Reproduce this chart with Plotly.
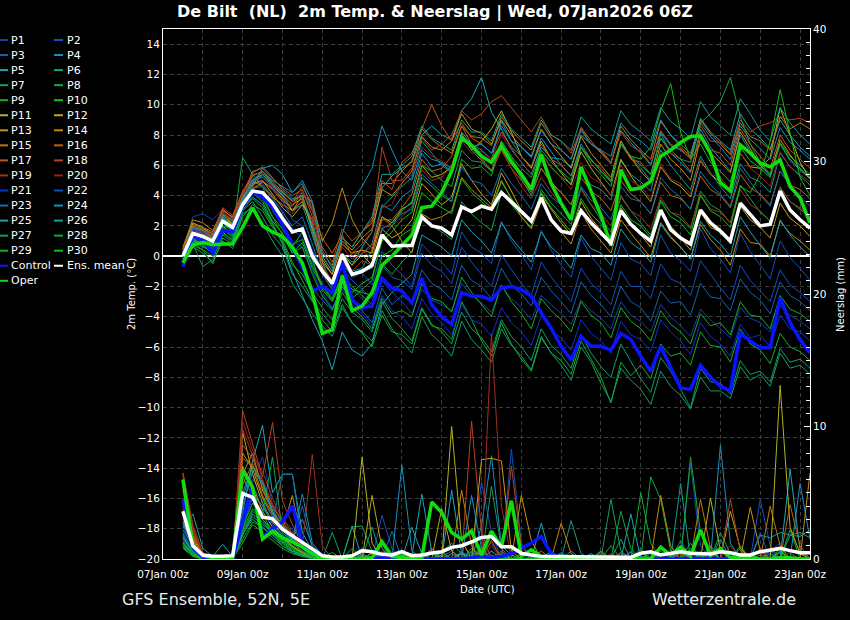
import pandas as pd
import plotly.graph_objects as go

# GFS ensemble, De Bilt, run 07Jan2026 06Z
# 6-hourly values from 07Jan 12z to 23Jan 06z (64 steps)
times = pd.date_range("2026-01-07 12:00", periods=64, freq="6h")

# ---------- 2m temperature (deg C) ----------
t_mean = [0.0, 1.5, 1.3, 1.0, 2.3, 1.9, 3.4, 4.3,
          4.2, 3.5, 2.5, 1.6, 1.8, 0.0, -1.0, -1.8,
          0.1, -1.2, -1.0, -0.6, 1.4, 0.65, 0.7, 0.7,
          2.6, 2.0, 1.85, 1.4, 3.25, 2.95, 3.3, 3.1,
          4.2, 3.6, 2.95, 2.3, 3.85, 2.4, 1.65, 1.5,
          3.0, 2.2, 1.5, 0.85, 3.0, 2.1, 1.5, 1.0,
          3.05, 1.75, 1.2, 0.8, 3.05, 2.2, 1.65, 1.0,
          3.5, 2.75, 2.0, 2.1, 4.3, 3.05, 2.4, 1.85]
t_control = [-0.7, 1.4, 1.0, 0.2, 1.7, 1.6, 3.3, 4.2,
             3.9, 3.2, 2.1, 0.6, -0.7, -2.3, -2.0, -2.4,
             -0.4, -2.9, -3.4, -3.3, -1.45, -2.1, -2.3, -3.1,
             -1.45, -3.2, -4.0, -4.5, -2.4, -2.65, -2.65, -2.9,
             -2.1, -2.0, -2.2, -2.65, -3.75, -4.75, -5.95, -6.85,
             -5.3, -5.95, -5.95, -6.2, -5.1, -5.5, -6.6, -7.6,
             -5.95, -7.3, -8.7, -8.8, -7.2, -8.0, -8.6, -8.9,
             -5.1, -5.6, -6.05, -6.05, -2.75, -4.4, -5.5, -6.4]
t_oper = [-0.45, 0.75, 0.9, 0.75, 0.8, 0.8, 1.9, 3.2,
          2.0, 1.6, 1.3, 0.6, -0.45, -2.4, -5.1, -4.85,
          -1.3, -3.6, -3.3, -2.4, -0.6, 0.0, 0.7, 1.4,
          3.2, 3.3, 4.2, 5.6, 7.8, 7.3, 6.6, 6.2,
          7.3, 6.2, 5.4, 4.4, 6.7, 4.8, 3.5, 2.4,
          5.9, 4.3, 2.7, 0.7, 5.7, 4.4, 4.5, 4.95,
          6.6, 7.0, 7.5, 7.9, 7.95, 6.8, 4.85, 4.3,
          7.35, 6.8, 6.15, 5.9, 6.35, 4.6, 3.85, 2.2]

t_p01 = [0.3, 2.6, 2.8, 2.4, 3.1, 2.5, 4.2, 5.2, 4.8, 3.9, 3.0, 1.8, 1.2, -0.4,
         -1.8, -2.6, -1.5, -2.2, -2.8, -3.4, -1.6, -2.4, -3.0, -3.8, -2.2, -2.9,
         -3.2, -3.6, -1.8, -2.6, -3.1, -3.7, -2.0, -2.8, -3.4, -4.2, -2.6, -3.2,
         -3.8, -4.5, -2.9, -3.6, -4.1, -4.8, -3.0, -3.9, -4.3, -5.0, -3.2, -4.0,
         -4.6, -5.3, -3.5, -4.2, -4.8, -5.4, -3.4, -4.1, -4.4, -5.0, -3.3, -3.9, -4.3, -4.8]
t_p02 = [0.1, 1.9, 1.6, 1.2, 2.6, 2.0, 3.8, 4.9, 5.3, 4.6, 3.9, 3.1, 3.6, 2.2,
         -0.8, -2.0, -0.4, -1.4, -1.1, -1.9, 0.3, -0.6, -1.2, -2.0, 0.8, 0.1,
         -0.4, -1.2, 1.6, 0.6, 0.2, -0.5, 2.3, 1.0, 0.1, -0.9, 1.7, 0.4,
         -0.6, -1.4, 1.2, 0.0, -0.8, -1.6, 0.9, -0.2, -0.5, -1.3, 1.4, 0.2,
         -0.3, -1.0, 1.8, 0.5, -0.2, -1.1, 1.5, 0.3, -0.6, -1.5, 1.0, -0.1, -0.8, -1.6]
t_p03 = [-0.2, 1.2, 1.0, 0.5, 1.8, 1.2, 3.0, 4.1, 4.0, 3.2, 2.0, 0.4, -0.8, -2.1,
         -2.9, -3.6, -2.0, -3.0, -3.6, -4.4, -2.1, -3.2, -2.6, -3.1, -0.9, -1.8,
         -2.2, -2.9, -0.6, -1.6, -2.0, -2.8, -0.8, -1.9, -2.5, -3.3, -1.4, -2.3,
         -3.0, -3.8, -1.7, -2.6, -3.2, -4.0, -2.0, -3.0, -3.4, -4.3, -2.3, -3.1,
         -3.0, -3.9, -1.8, -2.7, -2.8, -3.6, -1.5, -2.4, -2.9, -3.8, -1.7, -2.6, -3.0, -3.6]
t_p04 = [0.4, 2.0, 1.8, 1.5, 2.9, 2.4, 4.0, 5.5, 5.9, 5.2, 4.4, 3.8, 4.0, 1.6,
         -0.8, -1.8, 0.2, -0.4, 0.2, 0.8, 3.4, 3.0, 3.9, 4.4, 6.8, 5.9,
         6.1, 5.6, 8.2, 7.4, 7.0, 6.4, 8.9, 7.6, 6.6, 5.9, 7.8, 6.9,
         6.0, 5.3, 7.4, 6.4, 5.6, 4.9, 7.6, 6.5, 5.8, 5.0, 8.1, 6.8,
         6.2, 5.5, 8.4, 7.2, 6.4, 5.6, 8.0, 6.9, 6.0, 5.3, 7.4, 6.3, 5.7, 5.1]
t_p05 = [0.2, 1.7, 1.5, 1.1, 2.4, 2.2, 3.6, 4.6, 5.8, 6.0, 5.4, 4.2, 4.8, 3.1,
         -0.4, -1.9, 0.2, -0.6, 0.6, 1.6, 4.5, 5.3, 5.8, 6.2, 8.0, 8.6,
         8.0, 7.7, 9.6, 10.4, 11.8, 9.5, 8.4, 7.1, 6.2, 5.4, 7.2, 6.5,
         6.4, 5.9, 8.0, 7.4, 6.9, 6.2, 8.3, 7.5, 6.8, 6.0, 8.2, 7.3,
         7.0, 6.5, 9.1, 8.2, 7.6, 7.0, 9.4, 8.4, 7.8, 7.1, 9.0, 8.0, 7.2, 6.6]
t_p06 = [-0.3, 1.4, 1.2, 0.9, 2.0, 1.8, 3.4, 4.9, 5.6, 4.8, 4.1, 3.0, 3.4, 1.4,
         -0.6, -1.8, -0.4, -1.0, -0.8, 0.4, 3.2, 3.9, 4.6, 5.2, 7.6, 6.8,
         6.0, 5.5, 7.9, 7.0, 6.3, 5.6, 7.4, 6.2, 5.1, 4.0, 5.8, 4.9,
         4.2, 3.4, 5.6, 4.7, 4.4, 3.7, 6.3, 5.4, 4.9, 4.3, 7.0, 6.0,
         5.2, 4.4, 6.6, 5.5, 4.6, 3.8, 6.1, 5.2, 4.9, 4.2, 6.8, 5.9, 5.3, 4.7]
t_p07 = [-0.6, 0.8, -0.7, -0.2, 1.4, 0.9, 3.0, 3.6, 2.6, 1.4, 0.6, -1.2, -2.0, -3.0,
         -3.8, -4.6, -2.8, -3.7, -4.2, -5.0, -3.0, -4.1, -4.8, -5.6, -3.4, -4.5,
         -5.0, -5.8, -3.7, -4.8, -5.4, -6.3, -4.2, -5.3, -6.0, -6.9, -4.8, -5.9,
         -6.5, -7.4, -5.2, -6.4, -7.3, -8.0, -5.8, -7.0, -8.1, -9.0, -6.7, -7.6,
         -8.8, -10.0, -7.4, -8.3, -8.4, -9.1, -6.9, -7.8, -7.6, -8.3, -6.1, -7.0, -6.8, -7.4]
t_p08 = [0.0, 1.0, 0.6, 0.3, 1.9, 1.5, 6.5, 5.4, 4.6, 3.0, 2.0, 0.8, 1.1, -0.6,
         -1.9, -2.8, -1.2, -2.0, -2.6, -3.2, -0.5, -1.2, -0.4, 0.3, 2.4, 2.0,
         1.6, 1.1, 3.6, 2.8, 2.2, 1.7, 4.2, 3.4, 2.6, 1.9, 4.4, 3.5,
         2.8, 2.1, 4.5, 3.4, 2.4, 1.6, 3.9, 3.0, 2.2, 1.4, 3.7, 2.9,
         2.5, 1.8, 4.3, 3.4, 3.0, 2.2, 4.7, 3.8, 2.9, 2.3, 4.5, 3.6, 3.1, 2.5]
t_p09 = [-0.4, 0.9, 0.4, -0.5, 1.2, 0.8, 2.6, 3.4, 3.0, 1.9, 1.1, -0.4, -1.6, -2.9,
         -4.2, -5.0, -3.2, -4.4, -5.1, -6.0, -3.9, -5.0, -5.2, -5.8, -3.5, -4.6,
         -4.8, -5.5, -3.0, -4.2, -5.6, -6.6, -4.4, -5.8, -6.8, -7.6, -5.4, -6.4,
         -6.9, -7.8, -5.6, -6.8, -8.0, -9.7, -7.0, -7.9, -7.2, -8.1, -5.8, -6.6,
         -6.4, -7.2, -5.0, -5.9, -6.0, -7.0, -4.8, -5.8, -6.2, -7.1, -5.1, -6.0, -6.3, -6.9]
t_p10 = [0.2, 1.3, 0.9, 0.4, 2.2, 1.6, 3.8, 4.4, 4.0, 2.6, 1.8, 0.6, 1.6, -0.2,
         -2.2, -3.0, -1.6, -2.4, -1.8, -1.4, 1.0, 1.6, 2.4, 2.9, 5.2, 4.6,
         4.0, 3.6, 6.4, 5.8, 5.9, 5.3, 7.6, 6.5, 5.4, 4.6, 6.8, 5.9,
         5.2, 4.8, 7.2, 6.1, 5.4, 4.6, 7.4, 6.6, 6.4, 7.2, 9.6, 11.4,
         8.2, 6.4, 7.4, 6.2, 5.6, 4.9, 7.2, 6.3, 5.8, 5.2, 7.5, 6.6, 6.0, 5.4]
t_p11 = [0.5, 2.2, 1.9, 1.4, 2.7, 2.1, 3.6, 4.4, 4.9, 4.5, 3.8, 3.0, 3.6, 2.0,
         -0.2, -1.2, 0.8, 0.2, 0.4, 0.2, 2.6, 2.2, 3.1, 3.5, 6.0, 5.2,
         5.4, 5.9, 8.1, 7.0, 7.6, 8.4, 9.6, 8.2, 6.6, 5.8, 7.6, 6.4,
         5.5, 4.7, 6.9, 5.8, 4.9, 4.0, 6.4, 5.3, 4.4, 3.6, 5.9, 5.0,
         4.6, 3.9, 6.3, 5.4, 4.9, 4.2, 6.8, 5.9, 5.8, 6.5, 9.8, 8.0, 6.2, 5.1]
t_p12 = [0.1, 1.5, 1.3, 0.8, 2.5, 1.9, 3.2, 4.8, 5.0, 4.1, 3.2, 2.6, 3.4, 2.4,
         -0.8, -1.6, 0.2, -0.6, 0.1, -0.6, 1.8, 1.2, 1.6, 2.4, 4.8, 4.1,
         3.4, 3.9, 6.1, 5.0, 4.1, 3.4, 5.5, 4.3, 3.0, 2.2, 4.1, 3.1,
         2.2, 1.4, 3.6, 2.5, 1.7, 0.9, 3.2, 2.2, 1.4, 0.6, 3.0, 2.0,
         1.2, 0.4, 2.9, 1.9, 1.6, 0.8, 3.3, 2.4, 1.9, 1.2, 3.5, 2.5, 2.0, 1.3]
t_p13 = [0.3, 1.8, 1.6, 1.2, 2.8, 2.3, 3.9, 5.0, 5.4, 4.7, 4.0, 3.4, 3.8, 1.8,
         -0.4, -1.2, 1.0, 0.4, 1.2, 1.8, 4.4, 4.0, 4.8, 5.6, 7.9, 7.2,
         7.0, 7.6, 9.4, 8.4, 8.1, 7.4, 9.0, 8.0, 7.2, 6.6, 8.4, 7.4,
         6.6, 5.8, 7.9, 6.8, 6.0, 5.2, 7.6, 6.5, 5.6, 4.9, 7.4, 6.4,
         5.8, 5.0, 7.8, 6.8, 6.2, 5.5, 8.2, 7.1, 6.0, 5.4, 7.7, 6.7, 5.8, 5.1]
t_p14 = [0.6, 2.4, 2.2, 1.7, 3.0, 2.6, 4.2, 5.0, 4.6, 3.9, 3.4, 3.0, 4.0, 3.6,
         1.0, 2.2, 4.5, 2.4, 1.2, 0.5, 2.6, 2.0, 1.0, 0.2, 2.8, 2.4,
         2.6, 3.0, 5.2, 4.4, 3.8, 3.2, 5.0, 3.8, 2.6, 1.8, 3.6, 2.5,
         1.6, 0.8, 2.9, 1.8, 1.0, 0.2, 2.4, 1.5, 0.7, -0.1, 2.2, 1.3,
         0.6, -0.2, 2.1, 1.1, 0.4, -0.6, 1.8, 0.9, 0.8, 0.0, 2.3, 1.5, 1.0, 0.4]
t_p15 = [0.4, 2.1, 1.9, 1.6, 3.1, 2.5, 4.1, 5.3, 5.6, 4.9, 4.3, 3.6, 4.0, 2.0,
         0.2, -0.6, 1.2, 0.6, 1.6, 2.2, 4.8, 4.8, 5.6, 6.3, 8.4, 7.7,
         7.2, 6.8, 8.6, 7.9, 7.8, 7.3, 9.2, 8.3, 7.6, 7.0, 8.8, 7.8,
         7.0, 6.4, 8.5, 7.6, 6.8, 6.1, 8.6, 7.7, 7.0, 6.4, 8.9, 8.0,
         7.2, 6.6, 9.0, 8.1, 7.4, 6.7, 8.8, 7.9, 7.6, 7.0, 9.2, 8.4, 8.8, 8.4]
t_p16 = [0.2, 1.9, 1.7, 1.3, 2.6, 2.0, 3.7, 4.7, 5.0, 4.4, 3.6, 3.3, 4.2, 3.0,
         1.2, 0.2, 1.4, 0.0, 0.4, -0.2, 2.4, 2.4, 3.2, 4.1, 6.4, 5.6,
         5.8, 6.6, 8.6, 7.4, 6.5, 5.6, 7.0, 5.8, 5.0, 4.2, 5.8, 4.8,
         4.2, 3.4, 5.2, 4.3, 3.8, 3.0, 5.0, 4.1, 3.6, 2.8, 4.9, 4.0,
         3.8, 3.1, 5.3, 4.4, 4.0, 3.2, 5.4, 4.5, 4.1, 3.4, 5.6, 4.7, 4.4, 3.8]
t_p17 = [0.5, 2.0, 1.8, 1.4, 2.8, 2.3, 4.0, 5.6, 5.8, 5.1, 4.5, 4.0, 4.4, 2.6,
         0.6, -0.4, 1.8, 1.0, 1.6, 2.4, 5.0, 4.4, 6.2, 6.8, 8.4, 10.0,
         8.6, 7.6, 8.8, 7.8, 7.4, 6.8, 8.2, 7.2, 6.6, 5.9, 7.4, 6.4,
         6.0, 5.3, 7.2, 6.3, 5.8, 5.0, 7.4, 6.4, 6.2, 5.4, 7.8, 6.8,
         6.4, 5.6, 8.1, 7.0, 6.8, 6.0, 8.4, 7.4, 6.6, 5.8, 8.0, 7.0, 6.4, 5.8]
t_p18 = [0.3, 1.8, 1.7, 1.5, 3.2, 2.7, 4.3, 5.4, 5.5, 4.8, 4.2, 3.6, 4.6, 3.4,
         0.0, -1.0, 0.8, 0.2, 0.8, 1.6, 7.2, 5.0, 5.0, 5.8, 7.8, 7.0,
         7.4, 8.0, 9.6, 9.0, 9.4, 10.2, 10.6, 9.8, 9.0, 8.2, 9.2, 8.0,
         7.6, 6.8, 8.4, 7.4, 7.0, 6.2, 8.2, 7.3, 6.9, 6.1, 8.3, 7.4,
         7.1, 6.4, 8.6, 7.6, 7.5, 6.8, 9.0, 8.2, 8.6, 8.8, 9.2, 9.0, 9.1, 8.8]
t_p19 = [0.1, 1.6, 1.5, 1.0, 2.4, 1.8, 3.5, 4.6, 4.7, 4.0, 3.4, 2.8, 3.7, 2.4,
         -1.2, -2.2, -0.4, -1.0, -0.3, -0.6, 1.9, 2.0, 2.6, 3.3, 5.7, 5.0,
         5.2, 6.0, 8.0, 7.2, 6.4, 5.7, 7.1, 5.8, 4.6, 3.8, 5.2, 4.2,
         3.4, 2.6, 4.4, 3.4, 2.8, 2.0, 4.0, 3.0, 2.6, 1.8, 3.9, 2.9,
         2.7, 1.9, 4.1, 3.1, 2.9, 2.2, 4.4, 3.4, 3.0, 2.3, 4.6, 3.6, 3.2, 2.6]
t_p20 = [0.2, 1.7, 1.6, 1.1, 2.9, 2.4, 4.1, 5.1, 5.2, 4.6, 3.9, 3.4, 4.3, 3.1,
         -0.6, -1.6, 0.6, -0.2, 0.2, 0.6, 3.2, 3.4, 4.9, 5.4, 7.2, 6.6,
         6.3, 5.8, 7.6, 6.8, 6.9, 6.4, 8.0, 7.0, 6.2, 5.4, 6.8, 5.8,
         5.2, 4.4, 6.2, 5.2, 4.8, 4.0, 6.0, 5.0, 4.6, 3.8, 6.1, 5.1,
         4.8, 4.1, 6.4, 5.4, 5.2, 4.4, 6.8, 5.8, 5.3, 4.6, 6.9, 5.9, 5.4, 4.9]
t_p21 = [-0.1, 1.1, 0.9, 0.6, 2.0, 1.4, 3.3, 4.4, 4.2, 3.3, 2.2, 1.0, 0.6, -1.0,
         -2.4, -3.4, -2.2, -3.2, -3.8, -4.6, -2.6, -3.6, -4.0, -4.8, -2.8, -3.8,
         -4.4, -5.2, -3.2, -4.2, -4.5, -5.3, -3.4, -4.4, -5.0, -5.9, -3.9, -4.9,
         -5.4, -6.2, -4.2, -5.1, -5.6, -6.4, -4.3, -5.2, -5.5, -6.3, -4.2, -5.0,
         -5.6, -6.5, -4.4, -5.3, -5.8, -6.6, -4.5, -5.4, -5.2, -6.0, -3.9, -4.8, -5.0, -5.6]
t_p22 = [0.0, 1.8, 1.6, 1.0, 2.4, 1.7, 3.4, 4.9, 5.2, 4.5, 3.7, 2.4, 2.0, 0.4,
         -1.0, -2.0, -0.8, -1.6, -2.2, -2.8, -0.6, -1.4, -1.6, -2.2, 0.2, -0.6,
         -1.0, -1.8, 0.6, -0.4, -1.2, -2.0, 0.1, -0.9, -1.8, -2.6, -0.4, -1.4,
         -2.2, -3.0, -0.8, -1.8, -2.4, -3.2, -1.0, -2.0, -2.0, -2.8, -0.5, -1.5,
         -1.8, -2.6, -0.3, -1.2, -2.1, -2.9, -0.6, -1.6, -2.3, -3.0, -0.9, -1.9, -2.4, -3.0]
t_p23 = [0.2, 1.3, 1.1, 0.8, 2.2, 1.7, 3.5, 4.5, 4.6, 3.8, 2.9, 2.0, 2.6, 0.8,
         -1.2, -2.2, -0.6, -1.1, -1.0, -0.8, 1.8, 2.2, 2.8, 3.1, 5.4, 4.8,
         4.2, 3.6, 5.9, 5.0, 4.8, 4.0, 5.8, 4.8, 4.0, 3.1, 4.8, 3.9,
         3.4, 2.6, 4.6, 3.7, 3.2, 2.4, 4.6, 3.8, 3.6, 2.8, 5.2, 4.4,
         3.9, 3.1, 5.6, 4.7, 4.1, 3.3, 5.8, 4.9, 4.0, 3.3, 5.6, 4.7, 3.9, 3.3]
t_p24 = [0.3, 1.9, 1.7, 1.3, 2.7, 2.2, 3.8, 5.0, 5.6, 5.0, 4.6, 4.2, 5.0, 3.6,
         0.4, -0.8, 1.4, 3.6, 4.6, 5.8, 8.6, 7.0, 5.6, 5.0, 7.0, 6.4,
         6.2, 5.8, 8.0, 7.2, 7.4, 6.8, 8.6, 7.6, 7.2, 6.5, 8.3, 7.4,
         7.0, 6.4, 8.3, 7.4, 7.0, 6.6, 8.8, 8.0, 7.6, 7.0, 9.0, 8.0,
         7.4, 6.8, 8.8, 7.9, 7.2, 6.4, 8.6, 7.7, 7.1, 6.4, 8.5, 7.5, 7.0, 6.4]
t_p25 = [-0.2, 1.0, 0.8, 0.3, 1.6, 1.0, 3.2, 3.9, 3.4, 2.2, 0.8, -1.0, -2.6, -4.2,
         -5.6, -7.5, -5.0, -6.2, -6.6, -5.8, -3.2, -2.4, -1.8, -1.2, 1.4, 1.0,
         0.6, 0.0, 2.4, 1.6, 1.0, 0.2, 2.2, 1.2, 0.4, -0.4, 1.6, 0.6,
         0.0, -0.8, 1.4, 0.5, 0.2, -0.6, 1.8, 0.9, 0.4, -0.4, 2.1, 1.2,
         0.6, -0.2, 2.3, 1.4, 0.8, 0.0, 2.6, 1.6, 0.7, -0.1, 2.4, 1.4, 0.6, 0.0]
t_p26 = [0.1, 1.5, 1.4, 1.0, 2.6, 2.0, 3.7, 4.8, 5.4, 4.7, 4.2, 3.7, 4.0, 2.0,
         0.0, -1.0, 1.2, 0.6, 1.6, 2.6, 5.4, 5.4, 6.0, 6.6, 8.6, 7.8,
         7.4, 7.0, 9.0, 8.2, 8.2, 7.6, 9.4, 8.4, 7.8, 7.2, 9.0, 8.0,
         7.6, 7.0, 9.2, 8.4, 7.9, 7.4, 9.6, 8.7, 8.2, 7.6, 9.8, 8.9,
         8.4, 7.8, 10.2, 9.2, 8.6, 8.0, 10.4, 9.4, 8.3, 7.6, 9.8, 8.8, 8.0, 7.4]
t_p27 = [-0.5, 0.6, 0.2, -0.4, 1.0, 0.5, 2.8, 3.2, 2.2, 1.0, 0.0, -1.8, -2.8, -3.8,
         -4.6, -5.3, -3.4, -4.4, -5.0, -5.6, -3.6, -4.8, -5.6, -6.4, -4.0, -5.2,
         -5.8, -6.6, -4.3, -5.5, -6.2, -7.0, -4.8, -5.9, -6.6, -7.5, -5.3, -6.4,
         -7.2, -8.2, -6.0, -7.0, -8.4, -9.6, -7.4, -8.2, -8.8, -9.8, -7.6, -8.6,
         -9.2, -10.1, -8.0, -8.9, -8.9, -9.4, -7.3, -8.2, -7.8, -8.6, -6.4, -7.4, -7.2, -7.8]
t_p28 = [0.0, 1.2, 0.7, 0.2, 1.8, 1.3, 3.2, 4.1, 3.8, 2.6, 1.4, 0.2, 0.6, -1.2,
         -2.6, -3.5, -2.0, -2.8, -2.2, -1.6, 1.2, 2.0, 3.0, 3.6, 6.0, 5.6,
         5.0, 4.6, 7.0, 6.3, 6.2, 5.6, 7.6, 6.6, 5.8, 5.2, 7.0, 6.2,
         5.6, 5.0, 7.2, 6.4, 5.6, 5.0, 7.4, 6.6, 6.0, 5.4, 7.8, 7.0,
         6.4, 6.2, 8.8, 9.4, 10.2, 11.8, 9.2, 7.4, 6.2, 5.4, 7.4, 6.4, 5.8, 5.2]
t_p29 = [-0.4, 0.7, 0.4, 0.0, 1.5, 1.1, 3.1, 3.8, 3.2, 2.0, 0.9, -0.6, -1.2, -2.4,
         -3.4, -4.2, -2.4, -3.4, -4.0, -4.8, -2.8, -3.8, -3.6, -4.0, -1.8, -2.8,
         -3.0, -3.7, -1.4, -2.4, -3.2, -4.0, -1.9, -3.0, -3.8, -4.8, -2.8, -3.6,
         -4.2, -5.0, -3.0, -3.9, -4.4, -5.4, -3.4, -4.3, -4.8, -5.6, -3.6, -4.5,
         -5.0, -5.8, -3.8, -4.6, -4.4, -5.2, -3.0, -3.9, -4.0, -4.8, -2.6, -3.5, -3.8, -4.3]
t_p30 = [0.1, 1.1, 0.8, 0.1, 2.0, 1.4, 3.6, 4.2, 3.6, 2.3, 1.5, 0.2, 0.9, -0.8,
         -2.0, -2.9, -1.4, -2.2, -2.4, -2.6, 0.0, 0.4, 1.4, 1.8, 4.2, 3.6,
         3.2, 2.8, 5.1, 4.2, 3.6, 3.0, 4.9, 3.8, 3.0, 2.2, 4.2, 3.2,
         2.4, 1.6, 3.8, 2.8, 2.1, 1.2, 3.4, 2.4, 2.0, 1.2, 3.6, 2.6,
         2.2, 1.4, 4.0, 3.0, 2.6, 1.9, 4.6, 4.2, 5.4, 7.6, 11.0, 8.0, 5.2, 4.0]

# ---------- 6-hourly precipitation (mm) ----------
r_mean = [3.6, 1.0, 0.3, 0.2, 0.2, 0.25, 4.95, 4.65,
          3.15, 3.05, 2.25, 1.75, 1.25, 0.75, 0.25, 0.15,
          0.15, 0.25, 0.63, 0.55, 0.35, 0.3, 0.55, 0.25,
          0.3, 0.45, 0.55, 0.88, 1.0, 1.3, 1.63, 1.7,
          0.93, 0.93, 0.43, 0.3, 0.18, 0.18, 0.18, 0.18,
          0.18, 0.18, 0.18, 0.13, 0.13, 0.13, 0.43, 0.55,
          0.3, 0.43, 0.55, 0.43, 0.43, 0.38, 0.55, 0.48,
          0.3, 0.3, 0.55, 0.68, 0.8, 0.63, 0.48, 0.48]
r_control = [4.5, 1.0, 0.1, 0, 0, 0, 2.8, 5.4,
             1.6, 2.3, 2.8, 4.0, 1.3, 0.5, 0.1, 0,
             0, 0, 0, 0, 0.1, 0, 0, 0,
             0, 0, 0, 0, 0, 0.1, 0.2, 0.1,
             0.2, 0.4, 0.8, 1.2, 1.7, 0.4, 0.1, 0,
             0, 0, 0, 0, 0, 0, 0, 0,
             0, 0, 0, 0, 0, 0, 0, 0,
             0, 0, 0, 0, 0, 0, 0, 0]
r_oper = [6.0, 1.0, 0.25, 0.1, 0.1, 0.1, 6.7, 5.4,
          1.5, 2.1, 1.6, 1.3, 0.9, 0.4, 0.05, 0,
          0, 0, 0, 0.1, 1.3, 0.2, 0.1, 0,
          0.1, 4.3, 3.5, 2.0, 1.5, 2.1, 0.3, 2.1,
          0.9, 4.4, 0.2, 0.7, 0.2, 0.05, 0.05, 0,
          0, 0, 0, 0, 0, 0, 0, 0,
          0.9, 0.3, 0.9, 0.2, 2.2, 0.3, 0.8, 0.1,
          0.1, 0.1, 0, 0, 0.1, 0.1, 0, 0]

r_p01 = [2.5, 0.8, 0.1, 0, 0, 0, 3.2, 5.8, 7.7, 4.1, 2.6, 1.8, 1.0, 0.4, 0.1, 0,
         0, 0, 0, 0, 0.6, 0.3, 0, 0, 0, 0.8, 0, 0, 0, 0.2, 0.6, 1.2,
         0, 0, 0, 0, 0.2, 0, 0, 0, 0, 0, 0, 0.3, 0, 0, 0, 0.2,
         0.8, 0, 0, 0, 0, 0.4, 0, 0, 0, 0, 0, 0.6, 1.2, 0.4, 0, 0]
r_p02 = [3.0, 1.2, 0.2, 0, 0, 0, 4.5, 6.0, 5.2, 3.8, 3.0, 2.2, 1.4, 0.6, 0.2, 0,
         0, 0, 0, 0, 3.3, 0.8, 0, 0, 0, 0, 0, 0, 0, 0, 5.8, 2.0,
         0, 8.3, 1.2, 0, 0, 0, 0.5, 0, 0, 0, 0, 0, 0, 0.6, 0, 0,
         0, 0, 0, 7.2, 1.0, 0, 0, 0, 0, 0, 4.5, 1.0, 0, 0, 0, 0]
r_p03 = [1.8, 0.5, 0, 0, 0, 0, 2.6, 4.2, 3.8, 3.0, 2.0, 1.4, 4.0, 0.8, 0.2, 0,
         0, 0, 0, 0.2, 0, 0, 0, 0, 0, 0, 0.2, 0.6, 0, 0.3, 0.8, 0,
         0, 0, 0, 0, 0, 0, 0.3, 0, 0, 0, 0, 0, 0.4, 0, 0, 0,
         0, 0, 0, 0, 0, 0, 0, 0.3, 0.2, 0, 0, 0, 0, 0, 0, 0]
r_p04 = [2.2, 1.0, 0.2, 0, 0.1, 0, 5.0, 7.0, 6.0, 3.5, 2.2, 1.5, 3.0, 1.0, 0.3, 0,
         0, 0, 0.3, 0, 0, 0, 0.4, 0, 0, 0, 0.5, 1.2, 0.4, 0, 2.5, 7.8,
         1.0, 0.3, 0, 0, 0, 0, 0, 0, 0, 0, 0, 0, 0, 0, 0.2, 0,
         0, 0, 0, 0, 0.3, 0, 0, 0, 0, 0, 0, 0.4, 0, 0, 5.7, 1.5]
r_p05 = [2.3, 3.4, 0.8, 0.2, 1.1, 0.2, 3.5, 7.4, 10.1, 5.0, 6.4, 6.4, 2.0, 0.6, 0.1, 0,
         0, 2.5, 0, 0, 0, 0, 0, 0.2, 4.9, 0.5, 0, 5.2, 0.4, 0, 0.6, 0,
         0, 0, 0, 0, 2.7, 0, 0, 0, 0, 0, 0, 0, 0, 3.4, 0, 0,
         0, 0, 0, 0, 0, 0, 0, 0, 0, 0, 0, 0, 0, 6.8, 0.6, 0]
r_p06 = [1.5, 0.6, 0, 0, 0, 0, 2.2, 5.0, 4.0, 2.6, 1.6, 1.0, 0.4, 0.2, 0, 0,
         0, 0, 0.4, 0, 0, 0, 0, 0, 0, 0.6, 0, 0, 0, 0.8, 0, 0.3,
         0, 0, 0, 0, 0, 0, 0, 2.9, 0.4, 0, 0, 0, 0, 0, 0, 0.4,
         0, 0, 5.7, 0, 0, 0, 0, 0, 0, 0, 0, 0, 0, 1.8, 2.0, 1.6]
r_p07 = [1.2, 0.3, 0, 0, 0, 0, 1.8, 3.2, 2.6, 2.0, 1.2, 0.6, 0.3, 0.1, 0, 2.0,
         0, 0, 0, 0, 0, 0, 0.3, 0, 0, 0, 0, 0, 0.4, 0, 0, 5.5,
         0.8, 0, 0, 0, 0, 0, 0, 0, 0, 0, 0, 4.5, 0.6, 0, 0, 0,
         0, 0, 0, 1.2, 0, 0, 0, 0, 0.8, 0, 0.3, 0, 0, 0, 0, 0]
r_p08 = [1.6, 0.4, 0, 0, 0, 0, 2.0, 3.6, 3.0, 2.2, 1.5, 0.9, 0.5, 0.2, 0, 0,
         0, 2.4, 2.5, 0.6, 0, 0, 0, 0, 0, 0, 0.5, 0, 0, 0, 0, 0,
         0, 0, 0.4, 0, 0, 0, 0, 0, 0, 0, 0, 0, 3.6, 0.8, 0, 6.2,
         4.5, 0.6, 0, 0, 0, 0, 0, 0, 0, 0.4, 0, 0, 0, 0, 0, 0]
r_p09 = [0.9, 0.2, 0, 0, 0, 0, 1.5, 2.8, 2.4, 1.8, 1.2, 0.7, 0.3, 0.1, 0, 0,
         0, 0, 0, 0, 0, 0.2, 0, 0, 0, 0, 0, 0, 0.6, 0, 0, 0,
         0, 0.3, 0, 0, 0, 0, 0, 0, 0, 0, 0.4, 0, 0, 0, 5.0, 1.2,
         0, 0, 0, 7.7, 2.0, 0, 0, 0, 0, 0, 0.6, 0, 0, 2.2, 0, 0]
r_p10 = [1.1, 0.3, 0, 0, 0, 0, 6.2, 4.8, 3.4, 2.0, 1.3, 0.8, 0.4, 0.1, 0, 0,
         0, 0, 0, 0, 0, 0, 0, 0, 0.4, 0, 0, 0, 0, 0.6, 0, 0,
         0, 0, 0, 0, 0.3, 0, 0, 0, 0, 0, 0, 0, 0, 0, 0, 0,
         0, 0, 0.8, 0, 0, 0.6, 0, 0, 0, 0.4, 0, 0, 0.8, 0, 0, 0]
r_p11 = [3.4, 1.4, 0.2, 0, 0, 0, 9.6, 6.4, 4.2, 2.8, 1.8, 1.2, 0.6, 0.2, 0, 0,
         0, 0, 7.7, 1.2, 0, 0, 0, 0, 0, 0, 0, 10.0, 1.4, 0, 0, 0,
         0.4, 0, 0, 0, 0, 0, 0, 0, 0, 0, 0, 0, 0, 0, 0, 0,
         0, 0, 0, 0, 0, 4.6, 0.6, 0, 0, 0, 0, 0, 13.1, 2.4, 0.4, 0]
r_p12 = [2.8, 1.0, 0.1, 0, 0, 0, 7.0, 5.6, 3.6, 2.4, 1.6, 1.0, 0.5, 0.2, 0, 0,
         0, 0, 0, 4.8, 0.8, 0, 0, 0, 0, 0, 3.8, 0.6, 0, 0, 7.5, 7.6,
         7.4, 0.6, 0, 0, 0, 0, 0, 0, 0, 0, 0, 0, 0, 0, 0, 0,
         0, 0, 0, 0, 0, 0, 0, 3.6, 0.8, 0, 0, 0, 0, 0, 0, 0]
r_p13 = [4.0, 1.6, 0.2, 0, 0, 0, 8.0, 6.8, 4.6, 3.2, 2.2, 4.8, 1.2, 0.4, 0.1, 0,
         0, 0, 0, 0, 0, 0, 0.3, 0, 0, 0, 0, 0, 0.4, 0, 0, 0,
         0, 0, 4.8, 1.4, 0, 0, 0, 0, 0, 0, 0, 0, 0, 0, 0, 0,
         0, 0, 0, 0, 0, 0, 0, 0, 0, 3.9, 0.6, 0, 0, 0, 0, 0]
r_p14 = [6.5, 2.2, 0.4, 0.1, 0, 0, 6.4, 8.0, 5.2, 3.6, 2.4, 1.6, 0.8, 0.3, 0, 0,
         0, 0, 0.2, 0, 0, 0, 0, 0, 0, 0.8, 0, 0, 5.2, 1.0, 0, 0,
         0, 0, 0, 0, 0, 0, 2.7, 0.4, 0, 0, 0, 0, 0, 0, 0, 0,
         4.8, 1.0, 0, 0, 0, 0, 0, 0, 0, 0, 0, 0, 0, 0, 0, 6.5]
r_p15 = [4.6, 1.8, 0.3, 0, 0, 0, 5.6, 7.2, 4.8, 3.4, 2.6, 1.8, 1.0, 0.3, 0, 0,
         0, 0, 0, 0, 0, 0, 0.6, 0, 0, 0, 0, 0.4, 0, 0, 0, 0,
         0, 0, 0, 0, 0.6, 0, 0, 0, 0, 0, 0, 0, 0, 0, 0, 0,
         0, 0, 0, 0, 4.5, 0.8, 0, 0, 0, 0, 0, 4.0, 1.0, 0, 0, 0]
r_p16 = [3.8, 1.5, 0.2, 0, 0, 0, 7.6, 7.0, 5.8, 4.0, 2.8, 1.9, 0.9, 0.3, 0, 0,
         0, 0, 0, 0.4, 0, 0, 0, 0, 0, 0, 0.3, 0, 0, 0, 0, 1.4,
         0, 0, 0, 0, 0, 0, 0, 0, 0, 0, 0.6, 0, 0, 0, 0, 0,
         0, 0, 0.4, 0, 0, 0, 0, 0, 0, 0, 0, 0, 0, 4.1, 1.0, 0]
r_p17 = [5.2, 2.0, 0.3, 0, 0, 0, 8.6, 7.6, 5.4, 3.8, 2.4, 1.5, 0.8, 0.2, 0, 0,
         0, 0, 0, 0, 0.5, 0, 0, 0, 0.3, 0, 0, 0, 0, 0, 0.8, 0,
         0, 0, 0, 0, 0, 0, 0, 0, 0, 0, 0, 0, 0.5, 0, 0, 0,
         0, 0, 0, 0, 0, 0, 0.6, 0, 0, 0, 0.8, 0, 0, 0, 0, 0]
r_p18 = [6.3, 2.4, 0.4, 0, 0, 0, 11.2, 8.6, 6.2, 10.3, 4.4, 2.6, 1.2, 0.4, 0.1, 0,
         0, 0, 0, 0, 0, 0, 0, 0.4, 0, 0, 0, 0, 0, 10.4, 2.0, 0,
         0, 7.0, 1.0, 0, 0, 0, 0, 0, 0, 0, 0, 0, 0, 0, 0, 0.6,
         0, 0, 0, 0, 0, 0, 0, 4.5, 0.6, 0, 0, 0, 0, 0, 0, 0]
r_p19 = [6.5, 2.6, 0.5, 0.1, 0, 0, 9.8, 7.8, 6.6, 4.6, 3.0, 2.0, 1.0, 7.9, 1.0, 0,
         0, 0, 0, 0, 0, 0.3, 0, 0, 0, 0, 0, 0, 0, 0, 0, 17.0,
         4.0, 0, 0, 0, 0, 0, 0, 0, 0, 0, 0, 0.4, 0, 0, 0, 0,
         0, 0, 0.6, 0, 0, 0, 0, 0, 0, 0, 0, 0.8, 0, 0, 0, 0]
r_p20 = [5.8, 2.2, 0.4, 0, 0, 0, 10.4, 8.2, 6.0, 4.2, 2.8, 1.8, 0.9, 0.3, 0, 0,
         0, 0, 0, 0, 0, 0, 0, 0, 0.4, 0, 0, 0, 0, 0, 0, 1.0,
         0, 0, 0, 0, 0, 0, 0, 0, 0, 0, 0.4, 0, 0, 0, 0, 0,
         0, 0, 0, 0, 0, 0, 0, 1.0, 0, 0, 0, 0, 0, 0.5, 0, 0]
r_p21 = [1.4, 0.4, 0, 0, 0, 0, 2.4, 4.6, 3.4, 2.6, 1.8, 1.2, 0.6, 0.2, 0, 0,
         0, 0, 0, 0, 0.4, 0, 0, 0, 0, 0, 0, 0, 0.6, 0, 0, 0,
         0, 0, 0, 0.3, 0, 0, 0, 0, 0, 0, 0, 0, 0, 0, 0, 0,
         0, 0.5, 0, 0, 0, 0, 0, 0, 0.4, 0, 0, 0, 0, 0, 0, 0]
r_p22 = [2.0, 0.7, 0.1, 0, 0, 0, 3.4, 5.4, 4.4, 3.2, 2.4, 1.6, 0.8, 0.3, 0.1, 0,
         0, 0, 0, 0, 1.2, 0, 0, 0, 0, 0, 0, 0, 0, 0.6, 0, 0,
         0, 0, 0, 0, 0, 0, 0, 0, 0, 0.4, 0, 0, 0, 0, 0, 0,
         0, 0, 0, 0, 0.6, 0, 0, 0, 0, 0, 2.0, 0, 0, 0, 0, 0]
r_p23 = [1.9, 0.6, 0, 0, 0, 0, 3.0, 4.8, 4.0, 2.8, 6.4, 6.4, 1.2, 0.5, 0.1, 0,
         0, 0, 0, 0, 0, 2.1, 0, 0, 0, 0, 0, 0.4, 0, 0, 0, 0,
         0, 0, 0, 0, 0, 0, 0, 0, 0, 0, 0.5, 0, 0, 0, 0, 0,
         0, 0, 1.4, 0, 0, 0, 0, 0, 0, 0, 0, 0.6, 0, 0, 0, 0]
r_p24 = [2.6, 1.1, 0.1, 0, 0, 0, 4.0, 6.6, 5.8, 3.4, 2.2, 1.4, 4.9, 1.2, 0.3, 0,
         0, 0, 0, 0, 0, 0, 7.1, 0.6, 0, 0, 0, 0, 0, 4.8, 0.8, 0,
         0, 0, 0, 0, 0, 0, 0, 0.6, 0, 0, 0, 0, 0, 0, 0, 0,
         0, 0, 0.8, 0, 0, 0, 8.6, 1.2, 0, 0, 0, 0, 0, 0, 0, 0]
r_p25 = [1.0, 0.3, 0, 0, 0, 0, 1.8, 3.4, 2.8, 1.9, 1.0, 0.6, 0.3, 0.1, 0, 0,
         0, 0, 0, 0, 0, 0, 0, 2.4, 0.4, 0, 0, 0, 0, 0, 0, 0.6,
         0, 0, 0, 0, 0, 0.6, 0, 0, 0, 0, 0, 0, 0, 0.5, 0, 0,
         0, 0, 0, 0, 0, 1.0, 0, 0, 0, 0, 0, 0, 0.5, 0, 0, 0]
r_p26 = [2.8, 1.2, 0.2, 0, 0, 0, 4.6, 7.0, 5.6, 3.6, 2.6, 1.6, 0.9, 0.3, 0, 0,
         0, 0, 0, 0.5, 0, 0, 0, 0, 0, 0, 0, 0, 0.5, 0, 0, 0,
         0, 0, 0, 0, 0, 0, 0, 0, 0, 0.4, 0, 0, 0, 0, 0, 0,
         0, 0, 0.6, 0, 0, 0, 1.5, 0, 0, 0, 1.8, 1.6, 2.0, 1.8, 1.7, 2.2]
r_p27 = [1.3, 0.4, 0, 0, 0, 0, 1.9, 3.0, 2.4, 1.6, 1.0, 0.5, 0.2, 0.1, 0, 0,
         0, 0, 0, 2.4, 0, 0, 0, 0, 0, 0, 0.6, 0, 0, 0, 0, 0,
         0.6, 0, 0, 0, 0, 0, 0, 0, 0, 0, 0, 0, 1.5, 0, 0.8, 0,
         0, 0, 0, 0.6, 0, 0, 0, 0, 0, 0.4, 0, 0, 0, 0, 0, 0]
r_p28 = [1.7, 0.5, 0, 0, 0, 0, 2.4, 4.2, 3.4, 7.7, 2.0, 1.2, 0.6, 0.2, 0, 0,
         0, 0.8, 0, 0, 0, 0, 0, 0, 0, 0.4, 0, 0, 0, 0, 0, 0.6,
         0, 0, 0, 0, 0, 0, 0, 0, 0, 0, 0, 1.0, 0, 0, 0, 0,
         0.6, 0, 0, 0, 0, 0, 2.0, 0.4, 0, 0, 0, 0, 0, 0, 0, 0]
r_p29 = [0.8, 0.2, 0, 0, 0, 0, 1.2, 2.6, 2.0, 1.4, 0.8, 0.4, 0.2, 0, 0, 0.5,
         0, 0, 0, 0, 0, 0, 0, 0, 0.3, 0, 0, 0, 0, 0, 0.4, 0,
         0, 0, 0, 0, 0, 0, 0, 0, 0, 0, 0.6, 0, 0, 0, 0, 0.6,
         0, 0, 0, 0, 0, 0.5, 0, 0, 0, 0, 0, 0, 0, 0, 0, 0]
r_p30 = [1.2, 0.3, 0, 0, 0, 0, 2.2, 3.8, 3.0, 2.0, 1.4, 0.9, 0.4, 0.1, 0, 0,
         0, 0, 0, 0, 0, 0, 0.4, 0, 0, 0, 0, 0, 0, 0.5, 0, 0,
         0, 0, 0, 0, 0, 0, 0.4, 0, 0, 0, 0, 0, 0, 0, 0.5, 0,
         0, 0, 0, 0.8, 0, 0, 0, 0, 1.0, 0, 0, 0, 0.6, 0, 0, 0]

members_t = [t_p01, t_p02, t_p03, t_p04, t_p05, t_p06, t_p07, t_p08, t_p09, t_p10,
             t_p11, t_p12, t_p13, t_p14, t_p15, t_p16, t_p17, t_p18, t_p19, t_p20,
             t_p21, t_p22, t_p23, t_p24, t_p25, t_p26, t_p27, t_p28, t_p29, t_p30]
members_r = [r_p01, r_p02, r_p03, r_p04, r_p05, r_p06, r_p07, r_p08, r_p09, r_p10,
             r_p11, r_p12, r_p13, r_p14, r_p15, r_p16, r_p17, r_p18, r_p19, r_p20,
             r_p21, r_p22, r_p23, r_p24, r_p25, r_p26, r_p27, r_p28, r_p29, r_p30]
member_names = ["P%d" % k for k in range(1, 31)]

# member colours run blue -> teal -> green -> yellow -> orange -> red, then again blue -> green
member_colors = [
    "#1a3cb4", "#1050c0", "#1064b4", "#1890c4", "#18a8b4",
    "#10a088", "#10a060", "#10a844", "#10b028", "#10c010",
    "#b4b41c", "#c4a418", "#c49410", "#c48810", "#c47410",
    "#c06010", "#c05414", "#b44420", "#a03020", "#942020",
    "#1030d4", "#1050c4", "#1070b4", "#1890c0", "#18a4b4",
    "#10a08c", "#10a064", "#10a840", "#10b028", "#10c010",
]
CONTROL = "#0a14ff"
OPER = "#10dc10"
MEAN = "#ffffff"
GRID = "#3c3c3c"
FONT = "DejaVu Sans"

# plot area in pixels (850 x 620 page)
L, R, T, B = 163, 810, 29, 559


def px(x):
    return (x - L) / (R - L)


def py(y):
    return (B - y) / (B - T)


fig = go.Figure()

# ensemble members: precipitation (right axis) and temperature (left axis)
for name, col, rr in zip(member_names, member_colors, members_r):
    fig.add_trace(go.Scatter(x=times, y=rr, yaxis="y2", mode="lines", name=name,
                             line=dict(color=col, width=1)))
for name, col, tt in zip(member_names, member_colors, members_t):
    fig.add_trace(go.Scatter(x=times, y=tt, yaxis="y", mode="lines", name=name,
                             line=dict(color=col, width=1)))

# control, oper, mean on top
fig.add_trace(go.Scatter(x=times, y=r_control, yaxis="y2", mode="lines", name="Control",
                         line=dict(color=CONTROL, width=3.5)))
fig.add_trace(go.Scatter(x=times, y=t_control, yaxis="y", mode="lines", name="Control",
                         line=dict(color=CONTROL, width=3.5)))
fig.add_trace(go.Scatter(x=times, y=r_oper, yaxis="y2", mode="lines", name="Oper",
                         line=dict(color=OPER, width=3.5)))
fig.add_trace(go.Scatter(x=times, y=t_oper, yaxis="y", mode="lines", name="Oper",
                         line=dict(color=OPER, width=3.5)))
fig.add_trace(go.Scatter(x=times, y=r_mean, yaxis="y2", mode="lines", name="Ens. mean",
                         line=dict(color=MEAN, width=3.5)))
fig.add_trace(go.Scatter(x=times, y=t_mean, yaxis="y", mode="lines", name="Ens. mean",
                         line=dict(color=MEAN, width=3.5)))

# ---------- hand-drawn two-column legend ----------
shapes = []
annotations = []
left_col = [(member_names[k], member_colors[k]) for k in range(0, 30, 2)] + \
           [("Control", CONTROL), ("Oper", OPER)]
right_col = [(member_names[k], member_colors[k]) for k in range(1, 30, 2)] + \
            [("Ens. mean", MEAN)]
for col_items, x0, x1, xt in [(left_col, 0, 8, 9), (right_col, 54, 63, 65)]:
    for row, (label, color) in enumerate(col_items):
        yrow = 40 + 15.05 * row
        shapes.append(dict(type="line", xref="paper", yref="paper",
                           x0=px(x0), x1=px(x1), y0=py(yrow), y1=py(yrow),
                           line=dict(color=color, width=2)))
        annotations.append(dict(text=label, xref="paper", yref="paper",
                                x=px(xt), y=py(yrow), xanchor="left", yanchor="middle",
                                showarrow=False, font=dict(size=11, color="white", family=FONT)))

# title, axis titles and footer texts
annotations += [
    dict(text="<b>De Bilt\u00a0 (NL)\u00a0 2m Temp. &amp; Neerslag | Wed, 07Jan2026 06Z</b>",
         xref="paper", yref="paper", x=px(435), y=py(12), xanchor="center", yanchor="middle",
         showarrow=False, font=dict(size=16, color="white", family=FONT)),
    dict(text="2m Temp. (°C)", xref="paper", yref="paper", x=px(131), y=py(294),
         textangle=-90, showarrow=False, xanchor="center", yanchor="middle",
         font=dict(size=10, color="white", family=FONT)),
    dict(text="Neerslag (mm)", xref="paper", yref="paper", x=px(840), y=py(294),
         textangle=-90, showarrow=False, xanchor="center", yanchor="middle",
         font=dict(size=10, color="white", family=FONT)),
    dict(text="Date (UTC)", xref="paper", yref="paper", x=px(487), y=py(589),
         showarrow=False, xanchor="center", yanchor="middle",
         font=dict(size=10, color="white", family=FONT)),
    dict(text="GFS Ensemble, 52N, 5E", xref="paper", yref="paper", x=px(120), y=py(599),
         showarrow=False, xanchor="left", yanchor="middle",
         font=dict(size=16, color="#e8e8e8", family=FONT)),
    dict(text="Wetterzentrale.de", xref="paper", yref="paper", x=px(650), y=py(599),
         showarrow=False, xanchor="left", yanchor="middle",
         font=dict(size=16, color="#e8e8e8", family=FONT)),
]

DAY = 86400000
fig.update_layout(
    width=850, height=620,
    margin=dict(l=L, r=850 - R, t=T, b=620 - B),
    paper_bgcolor="black", plot_bgcolor="black",
    showlegend=False,
    font=dict(family=FONT, color="white", size=11),
    xaxis=dict(
        type="date", range=["2026-01-07 00:00", "2026-01-23 06:00"],
        tick0="2026-01-07", dtick=2 * DAY, tickformat="%d%b %Hz",
        tickfont=dict(size=10.5, color="white"),
        ticks="outside", ticklen=5, tickcolor="rgba(0,0,0,0)",
        showgrid=True, gridcolor=GRID, griddash="4px,3px", gridwidth=1,
        minor=dict(dtick=DAY, showgrid=True, gridcolor=GRID, griddash="4px,3px", gridwidth=1),
        showline=True, linecolor="white", linewidth=1, mirror=True, zeroline=False,
    ),
    yaxis=dict(
        range=[-20, 15], tick0=-20, dtick=2,
        tickfont=dict(size=10.5, color="white"),
        showgrid=True, gridcolor=GRID, griddash="4px,3px", gridwidth=1,
        zeroline=True, zerolinecolor="white", zerolinewidth=1.5,
        showline=True, linecolor="white", linewidth=1, mirror=True,
    ),
    yaxis2=dict(
        overlaying="y", side="right", range=[0, 40], tick0=0, dtick=10,
        tickfont=dict(size=10.5, color="white"),
        showgrid=False, zeroline=False,
        ticks="inside", ticklen=6, tickcolor="white",
        minor=dict(dtick=1, ticks="inside", ticklen=4, tickcolor="white"),
        showline=True, linecolor="white", linewidth=1,
    ),
    shapes=shapes,
    annotations=annotations,
)

fig.write_html("out.html", config={"displayModeBar": False},
               post_script="document.body.style.margin='0px';")
